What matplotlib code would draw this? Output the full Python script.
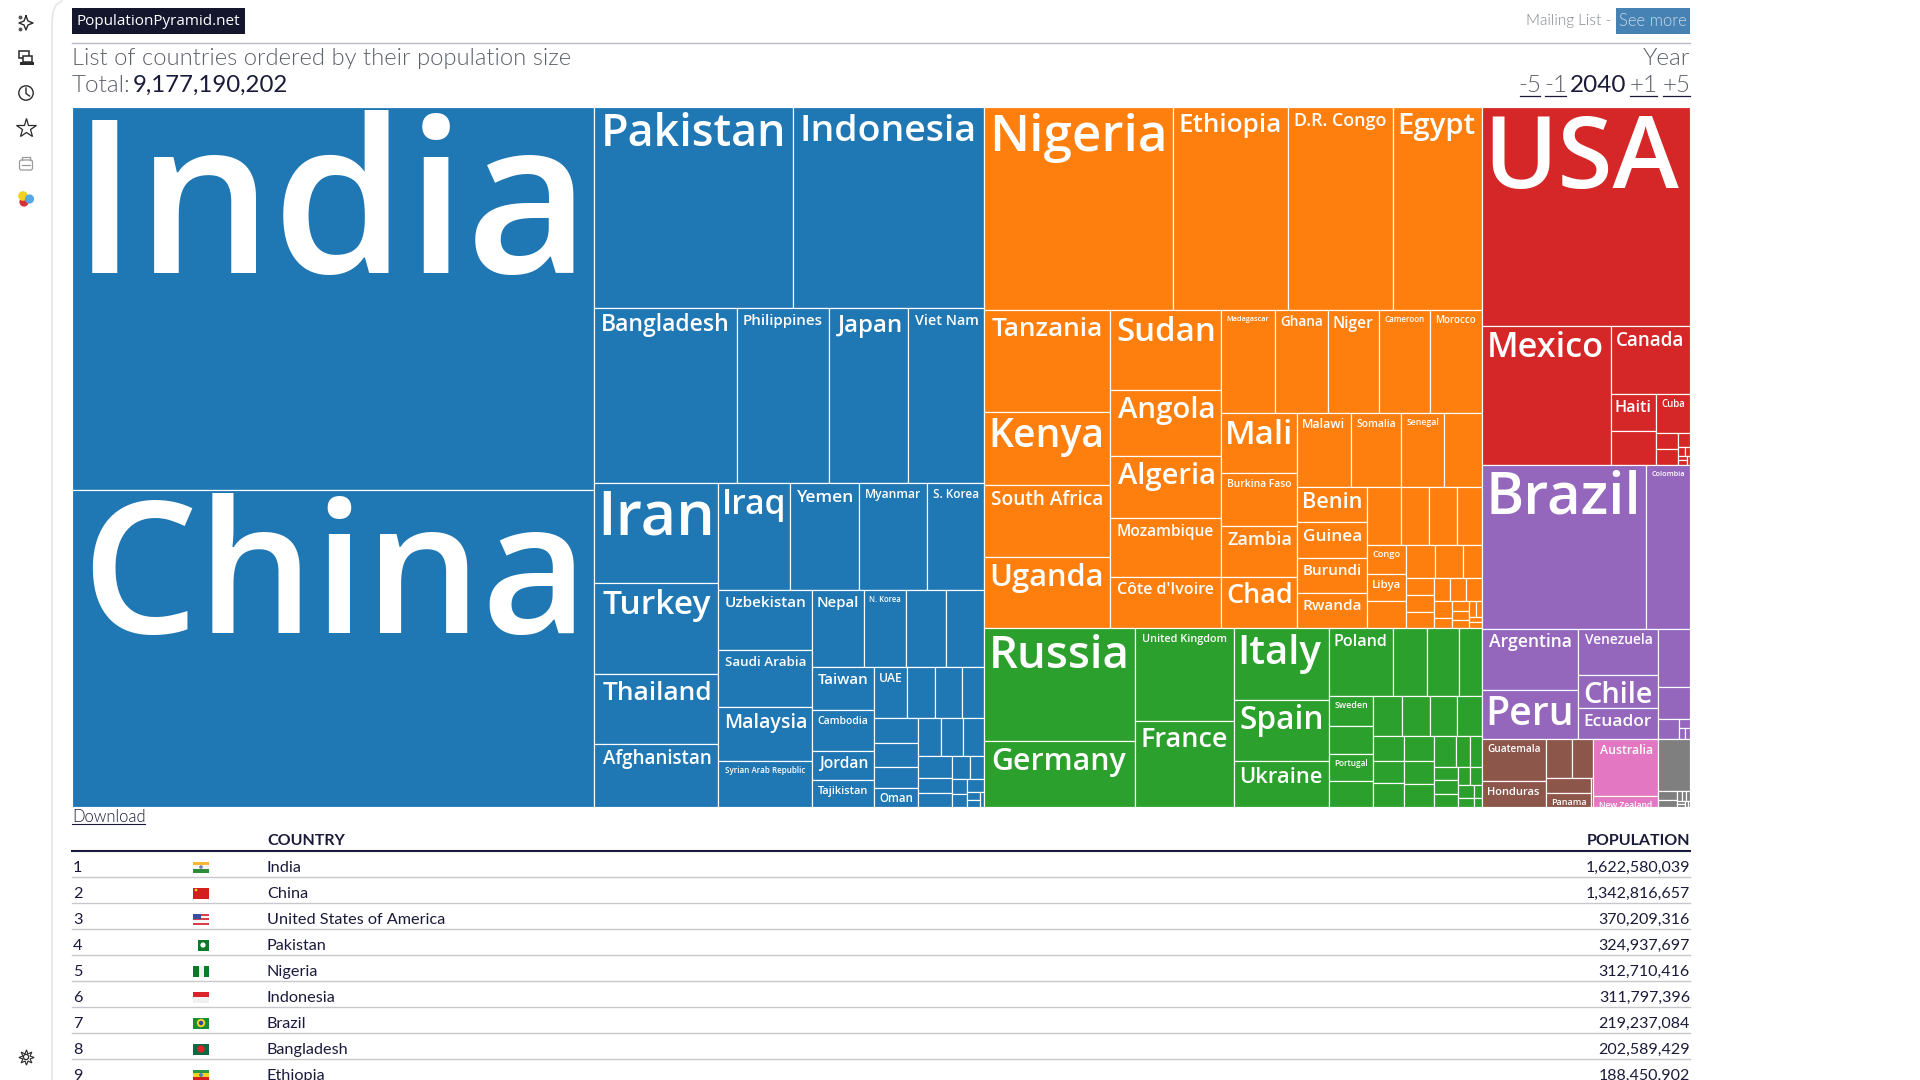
import math

import matplotlib
matplotlib.use("Agg")
import matplotlib.pyplot as plt
from matplotlib.font_manager import FontProperties
from matplotlib.patches import Circle, FancyBboxPatch, Rectangle
from matplotlib.textpath import TextPath

# Population by country, millions, 2040
asia_names = ["India", "China", "Pakistan", "Indonesia", "Bangladesh", "Philippines", "Japan", "Viet Nam",
              "Iran", "Turkey", "Thailand", "Afghanistan", "Iraq", "Yemen", "Myanmar", "S. Korea",
              "Uzbekistan", "Saudi Arabia", "Malaysia", "Syrian Arab Republic", "Nepal", "N. Korea", "", "",
              "Taiwan", "Cambodia", "Jordan", "Tajikistan", "UAE", "", "", "",
              "", "", "", "Oman", "", "", "", "", "", "", "", "", "", "", "", "", "", ""]
asia_values = [1622.58, 1342.82, 324.94, 311.80, 202.59, 130.5, 112, 107.8,
               100.5, 91.4, 70.3, 63, 62.4, 59.8, 59, 49.4,
               45.7, 43.4, 41, 34.8, 32.4, 26.2, 25, 23.7,
               21.6, 20.6, 14.6, 13.6, 13.6, 11.6, 11.2, 9.1,
               8.9, 8.6, 7.5, 6.8, 6.9, 6.6, 6.3, 5.9, 4.3, 3.7, 3.5, 2.6, 1.9, 1.6, 1.7, 0.8, 0.7, 0.5]

africa_names = ["Nigeria", "Ethiopia", "D.R. Congo", "Egypt", "Tanzania", "Kenya", "South Africa", "Uganda",
                "Sudan", "Angola", "Algeria", "Mozambique", "Côte d'Ivoire",
                "Madagascar", "Ghana", "Niger", "Cameroon", "Morocco",
                "Mali", "Burkina Faso", "Zambia", "Chad", "Malawi", "Somalia", "Senegal", "",
                "Benin", "Guinea", "Burundi", "Rwanda", "", "", "", "", "Congo", "Libya",
                "", "", "", "", "", "", "", "", "", "", "", "", "", "", "", "", "", "", ""]
africa_values = [312.71, 188.45, 173.6, 146.4, 104.2, 74, 74, 72.7,
                 72.2, 59.5, 55.9, 52.6, 46.5,
                 45.1, 44.3, 42.7, 42.7, 42.7,
                 37.1, 32.7, 31.5, 31.5, 31.7, 29.7, 25.8, 22.1,
                 20.4, 20.4, 19.9, 19.9, 16, 13.2, 13.2, 11.5, 9, 8.7,
                 8.4, 7.8, 7.6, 4.9, 4, 3.8, 3.6, 3.2, 3, 2.9, 2.6, 1.5, 1.3, 1.2, 1.2, 0.9, 0.7, 0.6, 0.6]

europe_names = ["Russia", "Germany", "United Kingdom", "France", "Italy", "Spain", "Ukraine",
                "Poland", "", "", "", "Sweden", "", "Portugal", "", "", "", "", "",
                "", "", "", "", "", "", "", "", "", "", "", "", "", "", "", "", "", ""]
europe_values = [138.8, 80.7, 74.1, 68.2, 55.5, 47.1, 35.3,
                 34.8, 19, 17.4, 12.2, 11, 10, 9.6, 9.2, 9.4, 9.1, 8.9, 8.1,
                 6.3, 5.8, 6, 6, 5.8, 5.5, 5.5, 3.5, 2.85, 2.6, 2.6, 2.6, 1.9, 1.7, 1.54, 1.18, 0.84, 0.57]

north_america_names = ["USA", "Mexico", "Canada", "Haiti", "", "Cuba", "", "", "", "", "", "", "", ""]
north_america_values = [370.21, 144.9, 43.9, 13.7, 12.5, 10.5, 2.9, 2.7, 1.4, 0.5, 0.4, 0.3, 0.3, 0.2]

south_america_names = ["Brazil", "Colombia", "Argentina", "Peru", "Venezuela", "Chile", "Ecuador", "", "", "", "", "", ""]
south_america_values = [219.24, 58.2, 47.8, 38.9, 30.4, 21, 20.6, 14.8, 8.2, 3.4, 0.86, 0.6, 0.43]

central_america_names = ["Guatemala", "Honduras", "", "", "", "Panama", ""]
central_america_values = [21.9, 13.4, 8.3, 6.6, 5.5, 5.2, 0.47]

oceania_names = ["Australia", "New Zealand"]
oceania_values = [30, 5.6]

other_names = ["", "", "", "", "", "", "", "", "", ""]
other_values = [13.4, 1.2, 1.1, 0.4, 0.35, 0.3, 0.2, 0.2, 0.15, 0.1]

total_label = "9,177,190,202"
year_label = "2040"
table_ranks = ["1", "2", "3", "4", "5", "6", "7", "8", "9"]
table_countries = ["India", "China", "United States of America", "Pakistan", "Nigeria",
                   "Indonesia", "Brazil", "Bangladesh", "Ethiopia"]
table_population = ["1,622,580,039", "1,342,816,657", "370,209,316", "324,937,697", "312,710,416",
                    "311,797,396", "219,237,084", "202,589,429", "188,450,902"]

# flag stripes per table row, top to bottom
flag_bands = [["#f7b733", "#f4f4f4", "#2e8b3a"], ["#d3201f"], ["#d8404a", "#f6f6f6", "#d8404a", "#f6f6f6", "#d8404a"],
              ["#0d7a2a"], ["#0d7a2a"], ["#d9252a", "#f0f0f0"], ["#1a8c34"], ["#0a6a42"],
              ["#2c9a44", "#f3d321", "#d3201f"]]

NAVY = "#1a1b3a"
GREY = "#5c606a"
TEXT_FONT = "Lato"
LABEL_FONT = "Open Sans"
label_prop = FontProperties(family=LABEL_FONT, weight=600)


def px(n):
    return n * 0.72


def squarify(values, x0, y0, x1, y1, ratio=(1 + math.sqrt(5)) / 2):
    # same greedy row building as d3.treemapSquarify, values kept in the given order
    out = []
    remaining = sum(values)
    i0 = 0
    n = len(values)
    while i0 < n:
        dx, dy = x1 - x0, y1 - y0
        i1 = i0 + 1
        row_sum = min_v = max_v = values[i0]
        alpha = max(dy / dx, dx / dy) / (remaining * ratio)
        beta = row_sum * row_sum * alpha
        best = max(max_v / beta, beta / min_v)
        while i1 < n:
            v = values[i1]
            s = row_sum + v
            lo, hi = min(min_v, v), max(max_v, v)
            beta = s * s * alpha
            new = max(hi / beta, beta / lo)
            if new > best:
                break
            best, row_sum, min_v, max_v = new, s, lo, hi
            i1 += 1
        if dx < dy:
            h = dy * row_sum / remaining
            cx = x0
            for v in values[i0:i1]:
                w = dx * v / row_sum
                out.append((cx, y0, w, h))
                cx += w
            y0 += h
        else:
            w = dx * row_sum / remaining
            cy = y0
            for v in values[i0:i1]:
                h = dy * v / row_sum
                out.append((x0, cy, w, h))
                cy += h
            x0 += w
        remaining -= row_sum
        i0 = i1
    return out


def fit_label(name, x, y, w):
    # font size from the cell width, text centred, baseline just under the top edge
    ext = TextPath((0, 0), name, size=100, prop=label_prop).get_extents()
    text_w = 0.94 * w - 9
    size = text_w / (ext.width / 100)
    return size, x + (w - text_w) / 2 - ext.x0 * size / 100, y + 0.75 * size + 5.5


fig = plt.figure(figsize=(19.2, 10.8), dpi=100)
ax = fig.add_axes([0, 0, 1, 1])
ax.set_xlim(0, 1920)
ax.set_ylim(1080, 0)
ax.axis("off")

# treemap: continents first, then the countries inside each one
groups = [(asia_names, asia_values, "#1f77b4"), (africa_names, africa_values, "#ff7f0e"),
          (europe_names, europe_values, "#2ca02c"), (north_america_names, north_america_values, "#d62728"),
          (south_america_names, south_america_values, "#9467bd"),
          (central_america_names, central_america_values, "#8c564b"),
          (oceania_names, oceania_values, "#e377c2"), (other_names, other_values, "#7f7f7f")]
group_rects = squarify([sum(g[1]) for g in groups], 72, 107, 1690, 807)

for (names, values, color), (gx, gy, gw, gh) in zip(groups, group_rects):
    for name, (x, y, w, h) in zip(names, squarify(values, gx, gy, gx + gw, gy + gh)):
        cell = Rectangle((x, y), w, h, facecolor=color, edgecolor="white", linewidth=0.85)
        ax.add_patch(cell)
        if name:
            size, tx, ty = fit_label(name, x, y, w)
            t = ax.text(tx, ty, name, color="white", fontproperties=label_prop, fontsize=px(size), va="baseline")
            t.set_clip_path(cell)

# page header
ax.add_patch(Rectangle((72, 8), 173, 26, facecolor="#14162e", edgecolor="none"))
ax.text(76, 21.5, "PopulationPyramid.net", color="white", family=LABEL_FONT, fontsize=px(15.2), va="center")
ax.plot([72, 1690], [42.5, 42.5], color="#bcbcc4", lw=1)
ax.text(1611, 21.5, "Mailing List -", color="#7f828c", family=TEXT_FONT, weight=300, fontsize=px(15.4), ha="right", va="center")
ax.add_patch(Rectangle((1616, 8), 74, 26, facecolor="#4682b4", edgecolor="none"))
ax.text(1653, 21.5, "See more", color="#c8d8e8", family=TEXT_FONT, weight=300, fontsize=px(16.5), ha="center", va="center")

ax.text(72, 65, "List of countries ordered by their population size", color=GREY, family=TEXT_FONT, weight=300, fontsize=px(23.8), va="baseline")
ax.text(72, 92, "Total:", color=GREY, family=TEXT_FONT, weight=300, fontsize=px(24.2), va="baseline")
ax.text(133, 92, total_label, color=NAVY, family=TEXT_FONT, fontsize=px(24), va="baseline")
ax.text(1690, 65, "Year", color=GREY, family=TEXT_FONT, weight=300, fontsize=px(24.2), ha="right", va="baseline")
for label, left, right, color in [("-5", 1520, 1540, GREY), ("-1", 1545, 1566, GREY), (year_label, 1572, 1625, NAVY),
                                  ("+1", 1630, 1657, GREY), ("+5", 1663, 1690, GREY)]:
    ax.text((left + right) / 2, 92, label, color=color, family=TEXT_FONT, weight=400 if color == NAVY else 300,
            fontsize=px(24.2), ha="center", va="baseline")
    if color != NAVY:
        ax.plot([left, right], [95.5, 95.5], color=NAVY, lw=0.9)

# table under the treemap
ax.text(72, 816.5, "Download", color=NAVY, family=TEXT_FONT, weight=300, fontsize=px(16.5), va="center")
ax.plot([72, 145], [824, 824], color=NAVY, lw=0.8)
ax.text(267, 841, "COUNTRY", color=NAVY, family=TEXT_FONT, weight="bold", fontsize=px(16), va="center")
ax.text(1690, 841, "POPULATION", color=NAVY, family=TEXT_FONT, weight="bold", fontsize=px(16), ha="right", va="center")
ax.plot([72, 1690], [851, 851], color=NAVY, lw=1.5)

for i, (rank, country, pop) in enumerate(zip(table_ranks, table_countries, table_population)):
    yc = 867 + 26 * i
    ax.text(73, yc + 1, rank, color=NAVY, family=TEXT_FONT, fontsize=px(16.2), va="center")
    ax.text(267, yc + 1, country, color=NAVY, family=TEXT_FONT, fontsize=px(16.2), va="center")
    ax.text(1690, yc + 1, pop, color=NAVY, family=TEXT_FONT, fontsize=px(16), ha="right", va="center")
    ax.plot([72, 1690], [yc + 10.3, yc + 10.3], color="#c8c8cc", lw=1)
    bands = flag_bands[i]
    for j, c in enumerate(bands):
        bh = 11.5 / len(bands)
        ax.add_patch(Rectangle((193, yc - 5.5 + j * bh), 16, bh, facecolor=c, edgecolor="none"))

# flag details, row centres at 867 + 26 * row
ax.add_patch(Circle((201, 867), 1.8, facecolor="#7080b0", edgecolor="none"))
ax.add_patch(Circle((196, 890), 1.3, facecolor="#f3d321", edgecolor="none"))
ax.add_patch(Rectangle((193, 913.5), 7.5, 5.5, facecolor="#3a4fa0", edgecolor="none"))
ax.add_patch(Rectangle((193, 939.5), 5, 11.5, facecolor="white", edgecolor="none"))
ax.add_patch(Circle((203, 945), 2.6, facecolor="white", edgecolor="none"))
ax.add_patch(Rectangle((198.5, 965.5), 5, 11.5, facecolor="#f2f2f2", edgecolor="none"))
ax.add_patch(Circle((201, 1023), 4.2, facecolor="#f3d321", edgecolor="none"))
ax.add_patch(Circle((201, 1023), 2.2, facecolor="#2a4f9a", edgecolor="none"))
ax.add_patch(Circle((201, 1049), 3.6, facecolor="#e0202a", edgecolor="none"))
ax.add_patch(Circle((201, 1075), 2, facecolor="#5080c0", edgecolor="none"))

# sidebar
ax.plot([52, 52, 53, 56, 62], [1080, 22, 12, 5, 1], color="#e6e6e6", lw=1.2)

ICON = "#2a2a2a"
ax.plot([26, 28, 33, 28, 26, 24, 19, 24, 26], [16, 21, 23, 25, 30, 25, 23, 21, 16], color=ICON, lw=1)
ax.plot([20, 20], [17, 29], ls="none", marker="o", ms=1.8, color="#555555")
ax.add_patch(Rectangle((19, 51), 10, 7, facecolor="none", edgecolor=ICON, lw=1.1))
ax.add_patch(Rectangle((23, 56), 9, 6, facecolor="white", edgecolor=ICON, lw=1.1))
ax.add_patch(Rectangle((20, 62), 14, 3, facecolor=ICON, edgecolor="none"))
ax.add_patch(Circle((26, 93), 7.2, facecolor="none", edgecolor=ICON, lw=1))
ax.plot([26, 26, 29.5], [88, 93.5, 96], color=ICON, lw=1)
ax.plot([26], [128], marker="*", ms=15, mfc="none", mec=ICON, mew=0.9)
ax.add_patch(FancyBboxPatch((19.5, 160), 13, 10, boxstyle="round,pad=0,rounding_size=2", facecolor="none", edgecolor="#9a9a9a", lw=0.9))
ax.plot([22, 22, 30, 30], [160, 157, 157, 160], color="#9a9a9a", lw=0.9)
ax.plot([22, 30], [165, 165], color="#9a9a9a", lw=0.9)
ax.add_patch(Circle((24, 202), 4.6, facecolor="#d7303a", edgecolor="none"))
ax.add_patch(Circle((23, 196), 4.8, facecolor="#f2d21f", edgecolor="none"))
ax.add_patch(Circle((29.5, 199), 4.6, facecolor="#55a8e0", edgecolor="none"))
ax.add_patch(Circle((26, 1057), 2.6, facecolor="none", edgecolor=ICON, lw=0.9))
ax.plot([26], [1057], marker=(8, 1, 0), ms=11, mfc="none", mec=ICON, mew=0.8)

fig.savefig("out.png", dpi=100)
